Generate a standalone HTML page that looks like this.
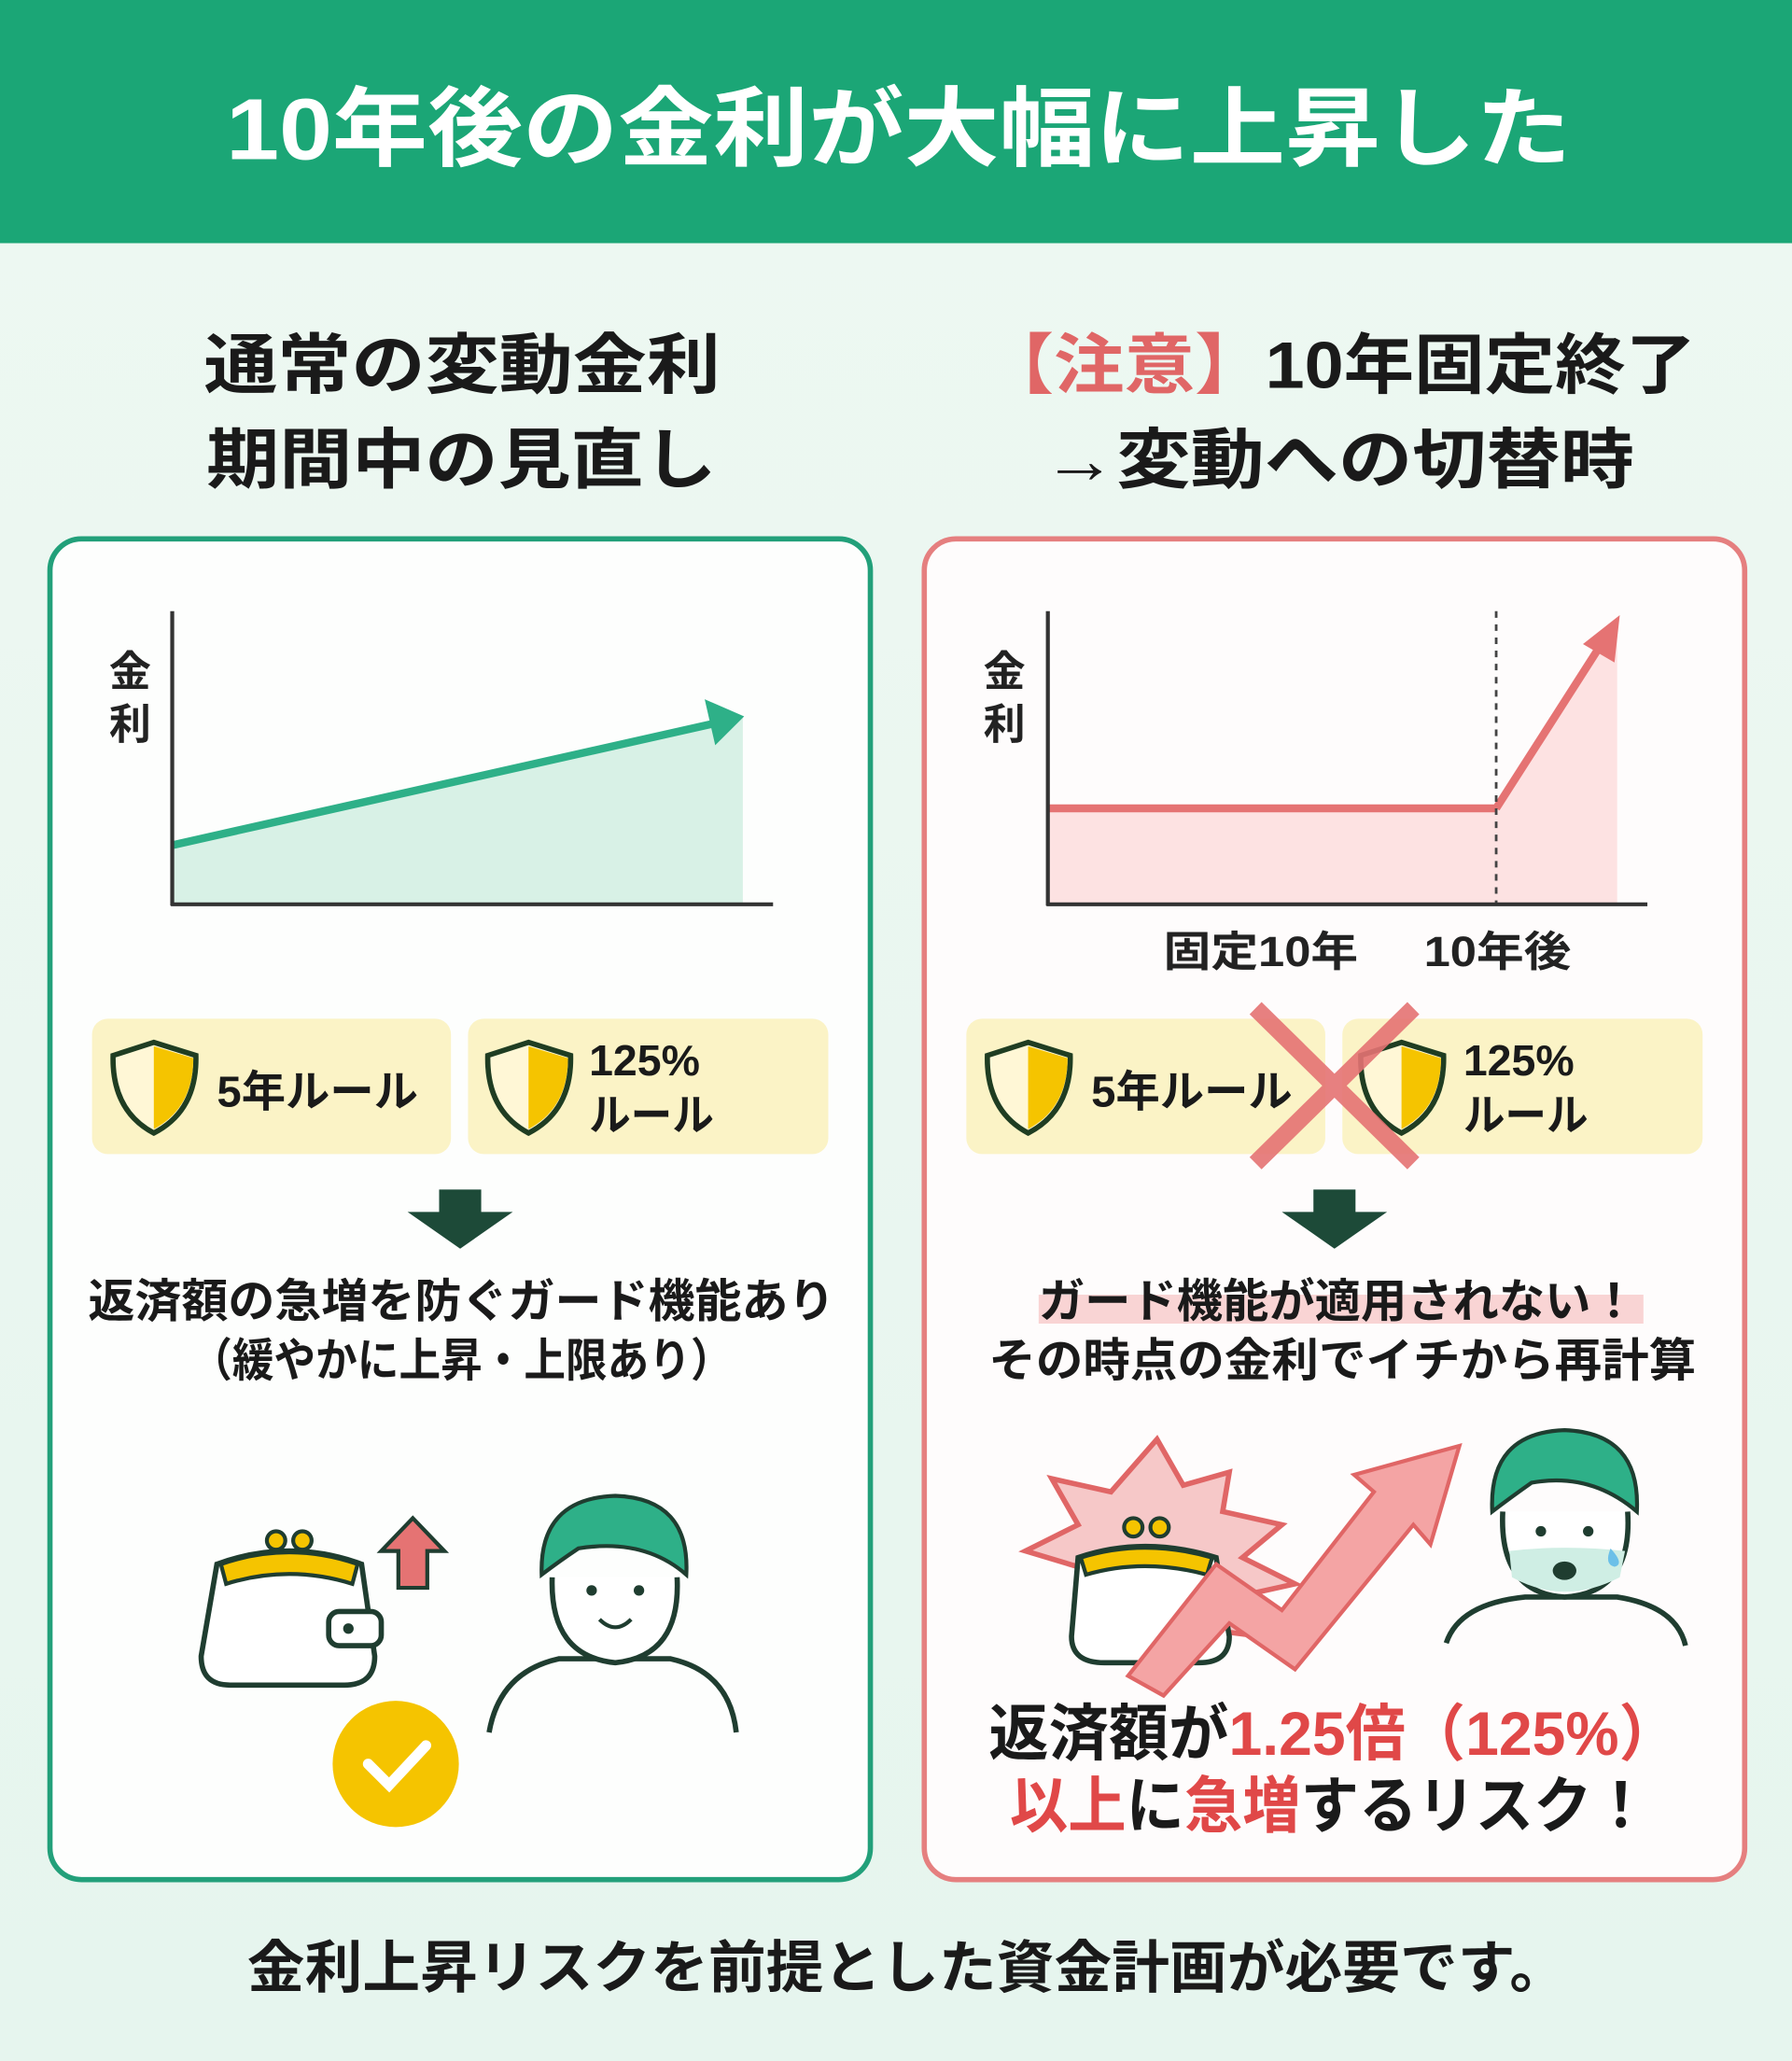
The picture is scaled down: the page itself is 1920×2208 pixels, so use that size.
<!DOCTYPE html>
<html><head><meta charset="utf-8">
<style>
html,body{margin:0;padding:0;background:#eef7f1;}
svg{display:block;}
text{font-family:"Liberation Sans","Noto Sans CJK JP",sans-serif;font-weight:bold;}
</style></head>
<body>
<svg width="1920" height="2208" viewBox="0 0 1363 1568" preserveAspectRatio="none" xmlns="http://www.w3.org/2000/svg">
<defs>
<linearGradient id="bg" x1="0" y1="0" x2="0" y2="1"><stop offset="0" stop-color="#eef8f2"/><stop offset="1" stop-color="#e6f5ee"/></linearGradient>
</defs>
<rect width="1363" height="1568" fill="url(#bg)"/>
<rect width="1363" height="185" fill="#1ba676"/>
<text x="172" y="121" font-size="66" fill="#fff" textLength="1023" lengthAdjust="spacingAndGlyphs">10年後の金利が大幅に上昇した</text>

<text x="155" y="295" font-size="50" fill="#1a1a1a" textLength="393" lengthAdjust="spacingAndGlyphs">通常の変動金利</text>
<text x="157" y="367" font-size="50" fill="#1a1a1a" textLength="388" lengthAdjust="spacingAndGlyphs">期間中の見直し</text>
<text x="748" y="295" font-size="50" fill="#1a1a1a" textLength="542" lengthAdjust="spacingAndGlyphs"><tspan fill="#e06666">【注意】</tspan>10年固定終了</text>
<text x="793" y="367" font-size="50" fill="#1a1a1a" textLength="450" lengthAdjust="spacingAndGlyphs">→変動への切替時</text>

<rect x="38" y="410" width="624" height="1020" rx="24" fill="#fdfefd" stroke="#22a07a" stroke-width="4"/>
<rect x="703" y="410" width="624" height="1020" rx="24" fill="#fefcfc" stroke="#e57f7f" stroke-width="4"/>

<polygon points="131,643 565,545 565,688 131,688" fill="#d8f1e6"/>
<line x1="131" y1="643" x2="545" y2="550" stroke="#2eb088" stroke-width="6"/>
<polygon points="566,545 536,532 544,567" fill="#2eb088"/>
<line x1="131" y1="465" x2="131" y2="689" stroke="#333" stroke-width="3"/>
<line x1="130" y1="688" x2="588" y2="688" stroke="#333" stroke-width="3"/>
<text x="99" y="522" text-anchor="middle" font-size="32" fill="#222">金</text>
<text x="99" y="562" text-anchor="middle" font-size="32" fill="#222">利</text>

<polygon points="797,615 1138,615 1230,478 1230,688 797,688" fill="#fde2e2"/>
<line x1="797" y1="615" x2="1138" y2="615" stroke="#e57373" stroke-width="6"/>
<line x1="1138" y1="615" x2="1218" y2="490" stroke="#e57373" stroke-width="6"/>
<polygon points="1232,468 1204,490 1228,504" fill="#e57373"/>
<line x1="1138" y1="465" x2="1138" y2="688" stroke="#444" stroke-width="2" stroke-dasharray="5,5"/>
<line x1="797" y1="465" x2="797" y2="689" stroke="#333" stroke-width="3"/>
<line x1="796" y1="688" x2="1253" y2="688" stroke="#333" stroke-width="3"/>
<text x="764" y="522" text-anchor="middle" font-size="32" fill="#222">金</text>
<text x="764" y="562" text-anchor="middle" font-size="32" fill="#222">利</text>
<text x="885" y="735" font-size="32" fill="#222" textLength="148" lengthAdjust="spacingAndGlyphs">固定10年</text>
<text x="1083" y="735" font-size="32" fill="#222" textLength="112" lengthAdjust="spacingAndGlyphs">10年後</text>

<rect x="70" y="775" width="273" height="103" rx="12" fill="#fbf3c6"/>
<rect x="356" y="775" width="274" height="103" rx="12" fill="#fbf3c6"/>
<rect x="735" y="775" width="273" height="103" rx="12" fill="#fbf3c6"/>
<rect x="1021" y="775" width="274" height="103" rx="12" fill="#fbf3c6"/>
<g fill="#fff7d6" stroke="#1f3d22" stroke-width="4">
<path d="M117,793 L149,803 Q150,845 117,862 Q85,845 86,803 Z"/>
<path d="M402,793 L434,803 Q435,845 402,862 Q370,845 371,803 Z"/>
<path d="M782,793 L814,803 Q815,845 782,862 Q750,845 751,803 Z"/>
<path d="M1066,793 L1098,803 Q1099,845 1066,862 Q1034,845 1035,803 Z"/>
</g>
<g fill="#f5c400">
<path d="M117,796 L147,805 Q147,843 117,859 Z"/>
<path d="M402,796 L432,805 Q432,843 402,859 Z"/>
<path d="M782,796 L812,805 Q812,843 782,859 Z"/>
<path d="M1066,796 L1096,805 Q1096,843 1066,859 Z"/>
</g>
<text x="165" y="842" font-size="33" fill="#1a1a1a" textLength="153" lengthAdjust="spacingAndGlyphs">5年ルール</text>
<text x="448" y="818" font-size="33" fill="#1a1a1a">125%</text>
<text x="448" y="860" font-size="33" fill="#1a1a1a" textLength="95" lengthAdjust="spacingAndGlyphs">ルール</text>
<text x="830" y="842" font-size="33" fill="#1a1a1a" textLength="153" lengthAdjust="spacingAndGlyphs">5年ルール</text>
<text x="1113" y="818" font-size="33" fill="#1a1a1a">125%</text>
<text x="1113" y="860" font-size="33" fill="#1a1a1a" textLength="95" lengthAdjust="spacingAndGlyphs">ルール</text>
<g stroke="#e57373" stroke-width="13" opacity="0.9">
<line x1="955" y1="767" x2="1075" y2="885"/>
<line x1="1075" y1="767" x2="955" y2="885"/>
</g>

<polygon points="334,905 366,905 366,922 390,922 350,950 310,922 334,922" fill="#1d4a38"/>
<polygon points="999,905 1031,905 1031,922 1055,922 1015,950 975,922 999,922" fill="#1d4a38"/>

<text x="67" y="1002" font-size="35" fill="#1a1a1a" textLength="568" lengthAdjust="spacingAndGlyphs">返済額の急増を防ぐガード機能あり</text>
<text x="145" y="1047" font-size="35" fill="#1a1a1a" textLength="412" lengthAdjust="spacingAndGlyphs">（緩やかに上昇・上限あり）</text>
<rect x="790" y="985" width="460" height="22" fill="#f7c9c9" opacity="0.8"/>
<text x="790" y="1002" font-size="35" fill="#1a1a1a" textLength="455" lengthAdjust="spacingAndGlyphs">ガード機能が適用されない！</text>
<text x="752" y="1047" font-size="35" fill="#1a1a1a" textLength="538" lengthAdjust="spacingAndGlyphs">その時点の金利でイチから再計算</text>

<path d="M165,1190 Q220,1170 275,1190 L285,1260 Q285,1282 262,1282 L175,1282 Q153,1282 153,1260 Z" fill="#fff" stroke="#1f3d30" stroke-width="4"/>
<path d="M168,1190 Q220,1172 272,1190 L268,1205 Q220,1190 172,1205 Z" fill="#f5c400" stroke="#1f3d30" stroke-width="3"/>
<circle cx="210" cy="1172" r="7" fill="#f5c400" stroke="#1f3d30" stroke-width="3"/>
<circle cx="230" cy="1172" r="7" fill="#f5c400" stroke="#1f3d30" stroke-width="3"/>
<rect x="250" y="1226" width="40" height="26" rx="8" fill="#fff" stroke="#1f3d30" stroke-width="4"/>
<circle cx="265" cy="1239" r="4" fill="#1f3d30"/>
<polygon points="314,1155 338,1180 325,1180 325,1208 303,1208 303,1180 290,1180" fill="#e57373" stroke="#1f3d30" stroke-width="3"/>
<circle cx="301" cy="1342" r="48" fill="#f5c400"/>
<polyline points="280,1342 296,1358 324,1328" fill="none" stroke="#fff" stroke-width="8" stroke-linecap="round"/>
<path d="M372,1318 Q380,1272 425,1262 L510,1262 Q555,1272 560,1318" fill="none" stroke="#1f3d30" stroke-width="4"/>
<path d="M420,1200 Q418,1260 468,1265 Q518,1260 515,1200" fill="#fff" stroke="#1f3d30" stroke-width="4"/>
<path d="M412,1198 Q410,1140 468,1138 Q525,1140 522,1198 Q490,1170 440,1178 Q425,1188 412,1198Z" fill="#2eb088" stroke="#1f3d30" stroke-width="3"/>
<circle cx="450" cy="1210" r="4" fill="#1f3d30"/><circle cx="486" cy="1210" r="4" fill="#1f3d30"/>
<path d="M456,1232 Q468,1244 480,1232" fill="none" stroke="#1f3d30" stroke-width="3"/>

<polygon points="880,1095 900,1130 935,1120 930,1150 975,1160 945,1185 985,1205 940,1215 960,1245 920,1240 880,1260 860,1220 820,1230 830,1195 780,1180 820,1160 800,1125 845,1135" fill="#f6c8c8" stroke="#e06666" stroke-width="4"/>
<path d="M820,1185 Q870,1168 925,1185 L935,1245 Q935,1265 912,1265 L840,1265 Q815,1265 815,1245 Z" fill="#fff" stroke="#1f3d30" stroke-width="4"/>
<path d="M822,1185 Q870,1170 922,1185 L918,1198 Q870,1185 826,1198 Z" fill="#f5c400" stroke="#1f3d30" stroke-width="3"/>
<circle cx="862" cy="1162" r="7" fill="#f5c400" stroke="#1f3d30" stroke-width="3"/>
<circle cx="882" cy="1162" r="7" fill="#f5c400" stroke="#1f3d30" stroke-width="3"/>
<polygon points="858,1275 925,1190 975,1225 1045,1135 1030,1122 1110,1100 1088,1175 1075,1160 985,1270 935,1235 885,1290" fill="#f4a4a4" stroke="#e06666" stroke-width="3"/>
<path d="M1100,1250 Q1110,1220 1160,1215 L1230,1215 Q1275,1222 1282,1252" fill="none" stroke="#1f3d30" stroke-width="4"/>
<path d="M1143,1150 Q1140,1212 1190,1215 Q1242,1212 1238,1150" fill="#fff" stroke="#1f3d30" stroke-width="4"/>
<path d="M1148,1180 Q1190,1175 1236,1180 L1232,1200 Q1190,1222 1150,1200Z" fill="#cfeee4"/>
<path d="M1135,1150 Q1132,1090 1190,1088 Q1248,1090 1245,1150 Q1210,1120 1165,1128 Q1148,1140 1135,1150Z" fill="#2eb088" stroke="#1f3d30" stroke-width="3"/>
<circle cx="1172" cy="1165" r="4" fill="#1f3d30"/><circle cx="1208" cy="1165" r="4" fill="#1f3d30"/>
<ellipse cx="1190" cy="1195" rx="9" ry="7" fill="#1f3d30"/>
<path d="M1225,1178 Q1220,1190 1228,1192 Q1236,1190 1225,1178Z" fill="#6cc0e8"/>

<text x="752" y="1335" font-size="47" fill="#1a1a1a" textLength="525" lengthAdjust="spacingAndGlyphs">返済額が<tspan fill="#e04848">1.25倍（125%）</tspan></text>
<text x="768" y="1390" font-size="47" fill="#1a1a1a" textLength="487" lengthAdjust="spacingAndGlyphs"><tspan fill="#e04848">以上</tspan>に<tspan fill="#e04848">急増</tspan>するリスク！</text>

<text x="188" y="1512" font-size="43" fill="#1a1a1a" textLength="1004" lengthAdjust="spacingAndGlyphs">金利上昇リスクを前提とした資金計画が必要です。</text>
</svg>
</body></html>
